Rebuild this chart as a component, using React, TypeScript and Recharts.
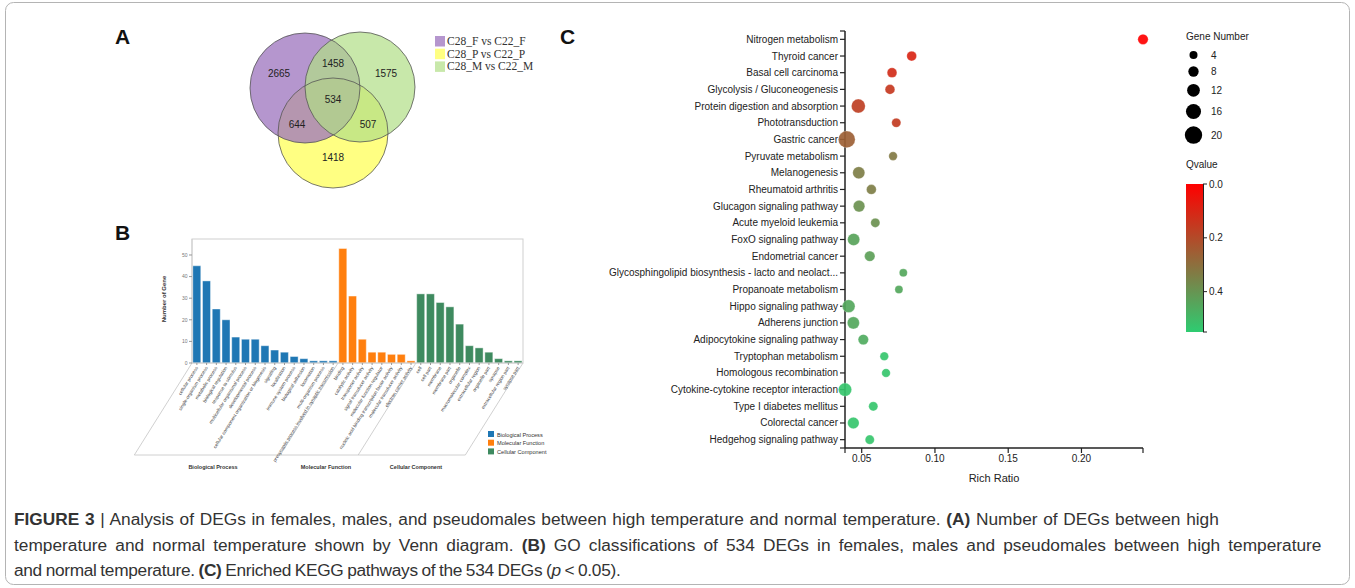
import React from "react"
import { ScatterChart, Scatter, XAxis, YAxis, BarChart, Bar, Cell } from "recharts"

const FONT = "Arial, 'Liberation Sans', Helvetica, sans-serif"

// ---------- A: Venn ----------
const vennSets = ["C28_F vs C22_F", "C28_P vs C22_P", "C28_M vs C22_M"]
const vennCounts = [2665, 1458, 1575, 534, 644, 507, 1418] // F, F∩M, M, all, F∩P, P∩M, P

// layout of the diagram inside its 190x175 box
const vennCenters = [[65, 63], [93, 108], [120, 62]]
const vennRadius = 55
const vennSpots = [[39, 48], [93, 38], [146, 48], [93, 74], [57, 99], [128, 99], [93, 132]]
const vennFill = ["#9c73bd", "#ffff82", "#b0de86"]
const vennAlpha = [0.75, 1, 0.7]
const vennLegendFill = ["#b596ce", "#ffff82", "#c8e8aa"]

// ---------- B: GO ----------
const goGroups = ["Biological Process", "Molecular Function", "Cellular Component"]
const goColors = ["#1f77b4", "#ff7f0e", "#3e8a5f"]
const bpTerms = [
  "cellular process", "single-organism process", "metabolic process", "biological regulation",
  "response to stimulus", "multicellular organismal process", "developmental process",
  "cellular component organization or biogenesis", "signaling", "localization",
  "immune system process", "biological adhesion", "locomotion", "multi-organism process",
  "presynaptic process involved in synaptic transmission",
]
const bpCounts = [45, 38, 25, 20, 12, 11, 11, 8, 6, 5, 3, 2, 1, 1, 1]
const mfTerms = [
  "binding", "catalytic activity", "transporter activity", "signal transducer activity",
  "molecular function regulator", "nucleic acid binding transcription factor activity",
  "molecular transducer activity", "electron carrier activity",
]
const mfCounts = [53, 31, 11, 5, 5, 4, 4, 1]
const ccTerms = [
  "cell", "cell part", "membrane", "membrane part", "organelle", "macromolecular complex",
  "extracellular region", "organelle part", "synapse", "extracellular region part", "synapse part",
]
const ccCounts = [32, 32, 28, 26, 18, 8, 7, 5, 2, 1, 1]
const goTicks = [0, 10, 20, 30, 40, 50]

// ---------- C: KEGG ----------
const pathways = [
  "Nitrogen metabolism", "Thyroid cancer", "Basal cell carcinoma", "Glycolysis / Gluconeogenesis",
  "Protein digestion and absorption", "Phototransduction", "Gastric cancer", "Pyruvate metabolism",
  "Melanogenesis", "Rheumatoid arthritis", "Glucagon signaling pathway", "Acute myeloid leukemia",
  "FoxO signaling pathway", "Endometrial cancer", "Glycosphingolipid biosynthesis - lacto and neolact...",
  "Propanoate metabolism", "Hippo signaling pathway", "Adherens junction",
  "Adipocytokine signaling pathway", "Tryptophan metabolism", "Homologous recombination",
  "Cytokine-cytokine receptor interaction", "Type I diabetes mellitus", "Colorectal cancer",
  "Hedgehog signaling pathway",
]
const richRatio = [
  0.242, 0.0841, 0.0707, 0.0693, 0.0477, 0.0736, 0.0398, 0.0714, 0.048, 0.0566, 0.0482, 0.0593,
  0.0445, 0.0555, 0.0784, 0.0754, 0.0411, 0.0443, 0.0511, 0.0654, 0.0666, 0.0386, 0.0579, 0.0443, 0.0555,
]
const geneNumber = [8, 7, 7, 7, 14, 6, 19, 5, 11, 7, 10, 6, 11, 8, 4, 4, 12, 11, 8, 5, 5, 13, 6, 10, 6]
const qValue = [
  0, 0.1, 0.12, 0.15, 0.17, 0.16, 0.26, 0.33, 0.34, 0.34, 0.39, 0.39, 0.44, 0.43, 0.45, 0.45,
  0.45, 0.45, 0.46, 0.53, 0.53, 0.53, 0.53, 0.53, 0.53,
]
const richTicks = [0.0386, 0.05, 0.1, 0.15, 0.2, 0.242]
const geneLegend = [4, 8, 12, 16, 20]
const qTicks = [0, 0.2, 0.4]
const Q_MAX = 0.55

const radiusOf = (g: number) => 2.83 + 0.294 * g
const qColor = (q: number) => {
  const t = Math.min(1, Math.max(0, q / Q_MAX))
  const r = Math.round(255 + (46 - 255) * t)
  const g = Math.round(204 * t)
  const b = Math.round(113 * t)
  return `rgb(${r},${g},${b})`
}

const vennCircles = vennSets.map((name, i) => ({ name, x: vennCenters[i][0], y: vennCenters[i][1], i }))
const vennDrawOrder = [1, 0, 2].map((i) => vennCircles[i])
const vennLabels = vennCounts.map((count, i) => ({ count, x: vennSpots[i][0], y: vennSpots[i][1] }))

const goData = [
  ...bpTerms.map((term, i) => ({ term, count: bpCounts[i], group: 0 })),
  ...mfTerms.map((term, i) => ({ term, count: mfCounts[i], group: 1 })),
  ...ccTerms.map((term, i) => ({ term, count: ccCounts[i], group: 2 })),
]

const keggData = pathways.map((name, i) => ({
  name, idx: i, ratio: richRatio[i], gene: geneNumber[i], q: qValue[i],
}))

// GO plot geometry (page px)
const GO = { x: 192, y: 239, w: 331, h: 124, depth: 92, slant: 0.627 }

function GoTick(props: any) {
  const { x, y, payload } = props
  return (
    <g transform={`translate(${x},${y})`}>
      <text transform="rotate(-58)" textAnchor="end" fontSize={4.7} fill="#444" dy={1.5} fontFamily={FONT}>
        {payload.value}
      </text>
    </g>
  )
}

function PathwayTick(props: any) {
  const { x, y, payload } = props
  const label = Number.isInteger(payload.value) ? pathways[payload.value] : ""
  return (
    <text x={x} y={y} dy={3.5} textAnchor="end" fontSize={10} fill="#222" fontFamily={FONT}>
      {label}
    </text>
  )
}

function Overlay() {
  const n = goData.length
  const bounds = [0, bpTerms.length, bpTerms.length + mfTerms.length, n]
  const dx = GO.depth * GO.slant
  const bottom = GO.y + GO.h + GO.depth
  const cy: number[] = []
  geneLegend.forEach((g, i) => {
    if (i === 0) cy.push(55)
    else cy.push(cy[i - 1] + radiusOf(geneLegend[i - 1]) + radiusOf(g) + 7.3)
  })
  const qy = (q: number) => 184 + (q / Q_MAX) * 148
  return (
    <svg width={1355} height={588} style={{ position: "absolute", left: 0, top: 0 }} fontFamily={FONT}>
      <defs>
        <linearGradient id="qgrad" x1="0" y1="0" x2="0" y2="1">
          <stop offset="0%" stopColor={qColor(0)} />
          <stop offset="100%" stopColor={qColor(Q_MAX)} />
        </linearGradient>
      </defs>
      <rect x={5.5} y={2.5} width={1344} height={582} rx={8} fill="none" stroke="#b4b4b4" />

      <text x={115} y={44} fontSize={21} fontWeight="bold" fill="#111">A</text>
      <text x={115} y={240} fontSize={21} fontWeight="bold" fill="#111">B</text>
      <text x={560} y={44} fontSize={21} fontWeight="bold" fill="#111">C</text>

      {/* Venn legend */}
      {vennSets.map((s, i) => (
        <g key={s}>
          <rect x={435} y={36 + i * 12.7} width={10} height={10.5} fill={vennLegendFill[i]} />
          <text x={447} y={45 + i * 12.7} fontSize={11.5} fill="#333" fontFamily="'Liberation Serif', 'Times New Roman', serif">
            {s}
          </text>
        </g>
      ))}

      {/* GO frame */}
      <rect x={GO.x} y={GO.y} width={GO.w} height={GO.h} fill="none" stroke="#cfcfcf" />
      {bounds.map((b, i) => {
        const x0 = GO.x + (GO.w * b) / n
        return <line key={i} x1={x0} y1={GO.y + GO.h} x2={x0 - dx} y2={bottom} stroke="#c4c4c4" strokeWidth={0.8} />
      })}
      <line x1={GO.x - dx} y1={bottom} x2={GO.x + GO.w - dx} y2={bottom} stroke="#c4c4c4" strokeWidth={0.8} />
      <text x={166} y={299} transform="rotate(-90 166 299)" textAnchor="middle" fontSize={6} fontWeight="bold" fill="#333">
        Number of Gene
      </text>
      {goGroups.map((g, i) => (
        <text key={g} x={[213, 326, 416][i]} y={469} textAnchor="middle" fontSize={5.5} fontWeight="bold" fill="#333">
          {g}
        </text>
      ))}
      {goGroups.map((g, i) => (
        <g key={g}>
          <rect x={488} y={431 + i * 8.7} width={6} height={6} fill={goColors[i]} />
          <text x={497} y={436.5 + i * 8.7} fontSize={5.6} fill="#333">{g}</text>
        </g>
      ))}

      {/* KEGG legends */}
      <text x={1186} y={39.5} fontSize={10} fill="#222">Gene Number</text>
      {geneLegend.map((g, i) => (
        <g key={g}>
          <circle cx={1193.5} cy={cy[i]} r={radiusOf(g)} fill="#000" />
          <text x={1211} y={cy[i] + 3.5} fontSize={10} fill="#222">{g}</text>
        </g>
      ))}
      <text x={1186} y={168} fontSize={10} fill="#222">Qvalue</text>
      <rect x={1186} y={184} width={17} height={148} fill="url(#qgrad)" />
      <line x1={1203.5} y1={184} x2={1203.5} y2={332} stroke="#222" />
      {[...qTicks, Q_MAX].map((q) => (
        <line key={q} x1={1203} y1={qy(q)} x2={1207} y2={qy(q)} stroke="#222" />
      ))}
      {qTicks.map((q) => (
        <text key={q} x={1209} y={qy(q) + 3.5} fontSize={10} fill="#222">{q.toFixed(1)}</text>
      ))}

      {/* caption */}
      <g fill="#333" fontSize={17.3}>
        <text x={14} y={525} wordSpacing={0.9}>
          <tspan fontWeight="bold">FIGURE 3</tspan>
          {"  | Analysis of DEGs in females, males, and pseudomales between high temperature and normal temperature. "}
          <tspan fontWeight="bold">(A)</tspan>
          {" Number of DEGs between high"}
        </text>
        <text x={14} y={551} wordSpacing={3.3}>
          {"temperature and normal temperature shown by Venn diagram. "}
          <tspan fontWeight="bold">(B)</tspan>
          {" GO classifications of 534 DEGs in females, males and pseudomales between high temperature"}
        </text>
        <text x={14} y={576} letterSpacing={-0.3} wordSpacing={-0.8}>
          {"and normal temperature. "}
          <tspan fontWeight="bold">(C)</tspan>
          {" Enriched KEGG pathways of the 534 DEGs ("}
          <tspan fontStyle="italic">p</tspan>
          {" < 0.05)."}
        </text>
      </g>
    </svg>
  )
}

function Venn() {
  return (
    <div style={{ position: "absolute", left: 240, top: 25 }}>
      <ScatterChart width={190} height={175} margin={{ top: 0, right: 0, bottom: 0, left: 0 }}>
        <XAxis type="number" dataKey="x" domain={[0, 190]} hide />
        <YAxis type="number" dataKey="y" domain={[0, 175]} reversed hide />
        <Scatter
          data={vennDrawOrder}
          isAnimationActive={false}
          shape={(p: any) => (
            <circle cx={p.cx} cy={p.cy} r={vennRadius} fill={vennFill[p.payload.i]} fillOpacity={vennAlpha[p.payload.i]} />
          )}
        />
        <Scatter
          data={vennCircles}
          isAnimationActive={false}
          shape={(p: any) => <circle cx={p.cx} cy={p.cy} r={vennRadius} fill="none" stroke="#555" strokeWidth={0.8} />}
        />
        <Scatter
          data={vennLabels}
          isAnimationActive={false}
          shape={(p: any) => (
            <text x={p.cx} y={p.cy} textAnchor="middle" dominantBaseline="central" fontSize={10} fill="#222" fontFamily={FONT}>
              {p.payload.count}
            </text>
          )}
        />
      </ScatterChart>
    </div>
  )
}

function GoChart() {
  return (
    <div style={{ position: "absolute", left: 130, top: 232 }}>
      <BarChart width={400} height={245} data={goData} margin={{ top: 7, right: 7, left: 0, bottom: 0 }} barCategoryGap="8%">
        <XAxis dataKey="term" interval={0} height={114} tick={<GoTick />} tickSize={2} tickLine={{ stroke: "#999" }} axisLine={{ stroke: "#cfcfcf" }} />
        <YAxis
          width={62}
          domain={[0, 57.4]}
          ticks={goTicks}
          tickSize={3}
          tickMargin={1.5}
          tick={{ fontSize: 5, fill: "#777", fontFamily: FONT }}
          tickLine={{ stroke: "#999" }}
          axisLine={{ stroke: "#cfcfcf" }}
        />
        <Bar dataKey="count" isAnimationActive={false} stroke="#ffffff" strokeWidth={0.6} strokeOpacity={0.7}>
          {goData.map((d, i) => (
            <Cell key={i} fill={goColors[d.group]} />
          ))}
        </Bar>
      </BarChart>
    </div>
  )
}

function KeggChart() {
  const yTicks = [-0.5, ...pathways.map((_, i) => i), pathways.length - 0.5]
  return (
    <div style={{ position: "absolute", left: 590, top: 20 }}>
      <ScatterChart width={570} height={470} margin={{ top: 11, right: 17, left: 0, bottom: 0 }}>
        <XAxis
          type="number"
          dataKey="ratio"
          domain={[richTicks[0], richTicks[richTicks.length - 1]]}
          ticks={richTicks}
          interval={0}
          height={42}
          tickSize={5}
          tickMargin={2}
          tickFormatter={(v: number, i: number) => (i === 0 || i === richTicks.length - 1 ? "" : v.toFixed(2))}
          tick={{ fontSize: 10, fill: "#222", fontFamily: FONT }}
          tickLine={{ stroke: "#222", strokeWidth: 1.2 }}
          axisLine={{ stroke: "#222", strokeWidth: 1.5 }}
          label={{ value: "Rich Ratio", position: "insideBottom", offset: 8, fontSize: 11, fill: "#222", fontFamily: FONT }}
        />
        <YAxis
          type="number"
          dataKey="idx"
          domain={[-0.5, pathways.length - 0.5]}
          reversed
          ticks={yTicks}
          interval={0}
          width={255}
          tickSize={5}
          tickMargin={2}
          tick={<PathwayTick />}
          tickLine={{ stroke: "#222", strokeWidth: 1.2 }}
          axisLine={{ stroke: "#222", strokeWidth: 1.5 }}
        />
        <Scatter
          data={keggData}
          isAnimationActive={false}
          shape={(p: any) => (
            <circle
              cx={p.cx}
              cy={p.cy}
              r={radiusOf(p.payload.gene)}
              fill={qColor(p.payload.q)}
              fillOpacity={0.92}
              stroke="#fff"
              strokeOpacity={0.5}
              strokeWidth={0.5}
            />
          )}
        />
      </ScatterChart>
    </div>
  )
}

export default function App() {
  return (
    <div style={{ position: "absolute", left: 0, top: 0, width: 1355, height: 588, background: "#fff", overflow: "hidden", fontFamily: FONT }}>
      <Overlay />
      <Venn />
      <GoChart />
      <KeggChart />
    </div>
  )
}
